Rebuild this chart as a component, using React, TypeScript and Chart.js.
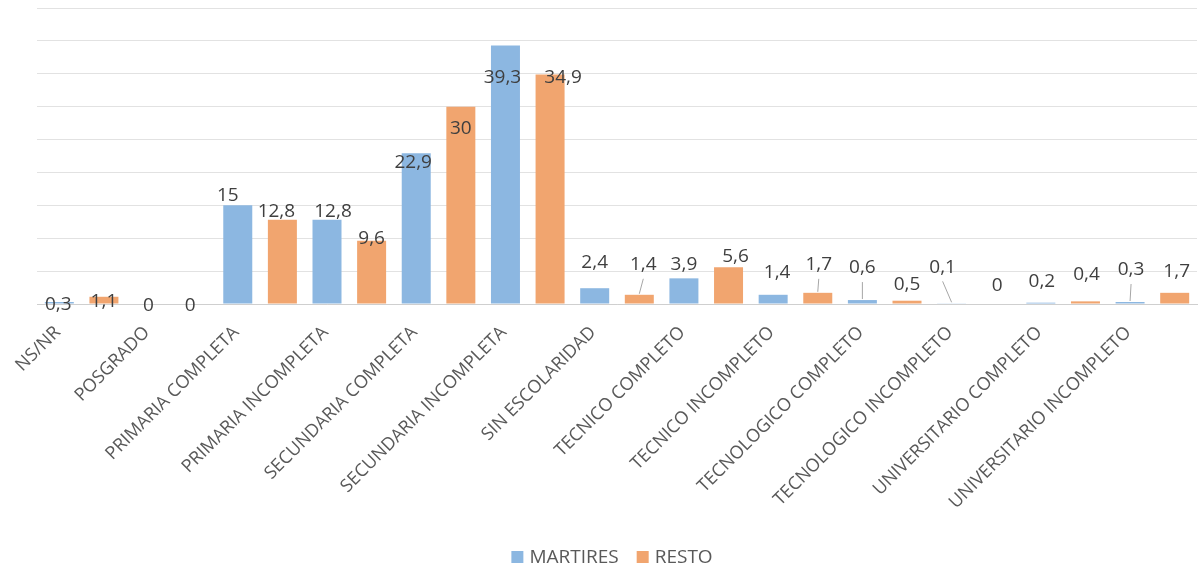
import React, { useEffect, useRef } from "react";
import { Chart, registerables } from "chart.js";

Chart.register(...registerables);

const categories = [
  "NS/NR",
  "POSGRADO",
  "PRIMARIA COMPLETA",
  "PRIMARIA INCOMPLETA",
  "SECUNDARIA COMPLETA",
  "SECUNDARIA INCOMPLETA",
  "SIN ESCOLARIDAD",
  "TECNICO COMPLETO",
  "TECNICO INCOMPLETO",
  "TECNOLOGICO COMPLETO",
  "TECNOLOGICO INCOMPLETO",
  "UNIVERSITARIO COMPLETO",
  "UNIVERSITARIO INCOMPLETO",
];
const martires = [0.3, 0, 15, 12.8, 22.9, 39.3, 2.4, 3.9, 1.4, 0.6, 0.1, 0.2, 0.3];
const resto = [1.1, 0, 12.8, 9.6, 30, 34.9, 1.4, 5.6, 1.7, 0.5, 0, 0.4, 1.7];
const seriesNames = ["MARTIRES", "RESTO"];

const Y_MAX = 45;
const Y_STEP = 5;

const BLUE = "#8CB7E1";
const ORANGE = "#F1A56F";
const FONT = '"Open Sans", "Noto Sans", sans-serif';

// Manual label nudges (dx, dy px relative to bar top, leader line flag),
// mimicking the hand-placed data labels of the original spreadsheet chart.
const labelNudges: [number, number, boolean][][] = [
  [
    [-1, 3, false], [0, 2, false], [-10, -10, false], [6, -8, false], [-3, 9, false],
    [-3, 32, false], [0, -26, false], [0, -14, false], [4, -22, false], [0, -32, true],
    [-9, -36, true], [1, -21, false], [1, -32, true],
  ],
  [
    [0, 5, false], [-3, 2, false], [-6, -8, false], [0, -2, false], [0, 22, false],
    [13, 3, false], [4, -30, true], [7, -11, false], [1, -28, true], [0, -16, false],
    [1, -18, false], [1, -27, false], [2, -21, false],
  ],
];

const valueLabelsPlugin = {
  id: "valueLabels",
  afterDatasetsDraw(chart: any) {
    const ctx = chart.ctx;
    ctx.save();
    ctx.font = `19px ${FONT}`;
    ctx.textAlign = "center";
    ctx.textBaseline = "middle";
    chart.data.datasets.forEach((ds: any, di: number) => {
      const meta = chart.getDatasetMeta(di);
      meta.data.forEach((bar: any, i: number) => {
        const v = ds.data[i];
        const [dx, dy, leader] = labelNudges[di][i];
        const x = bar.x + dx;
        const y = bar.y + dy;
        if (leader) {
          ctx.strokeStyle = "#a6a6a6";
          ctx.lineWidth = 1;
          ctx.beginPath();
          ctx.moveTo(x, y + 14);
          ctx.lineTo(bar.x, bar.y - 1);
          ctx.stroke();
        }
        ctx.fillStyle = "#3f3f3f";
        ctx.fillText(String(v).replace(".", ","), x, y);
      });
    });
    ctx.restore();
  },
};

const legendPlugin = {
  id: "customLegend",
  afterDraw(chart: any) {
    const ctx = chart.ctx;
    ctx.save();
    ctx.font = `19px ${FONT}`;
    ctx.textBaseline = "middle";
    ctx.textAlign = "left";
    const box = 12;
    const gapBoxText = 6;
    const gapItems = 18;
    const items = chart.data.datasets.map((d: any) => ({
      label: d.label,
      color: d.backgroundColor,
      w: ctx.measureText(d.label).width,
    }));
    const total = items.reduce(
      (s: number, it: any, idx: number) => s + box + gapBoxText + it.w + (idx > 0 ? gapItems : 0),
      0
    );
    let x = 612 - total / 2;
    const y = 557;
    items.forEach((it: any) => {
      ctx.fillStyle = it.color;
      ctx.fillRect(x, y - box / 2, box, box);
      x += box + gapBoxText;
      ctx.fillStyle = "#595959";
      ctx.fillText(it.label, x, y + 1);
      x += it.w + gapItems;
    });
    ctx.restore();
  },
};

export default function App() {
  const ref = useRef<HTMLCanvasElement | null>(null);
  useEffect(() => {
    if (!ref.current) return;
    Chart.defaults.font.family = FONT;
    const chart = new Chart(ref.current, {
      type: "bar",
      data: {
        labels: categories,
        datasets: [
          { label: seriesNames[0], data: martires, backgroundColor: BLUE, categoryPercentage: 1, barPercentage: 0.65 },
          { label: seriesNames[1], data: resto, backgroundColor: ORANGE, categoryPercentage: 1, barPercentage: 0.65 },
        ],
      },
      options: {
        responsive: false,
        animation: false,
        layout: { padding: { top: 8, left: 37, right: 7, bottom: 0 } },
        plugins: { legend: { display: false }, tooltip: { enabled: false } },
        scales: {
          x: {
            grid: { display: false },
            border: { display: true, color: "#cfcfcf", width: 1 },
            ticks: {
              autoSkip: false,
              minRotation: 45,
              maxRotation: 45,
              color: "#595959",
              font: { size: 18, family: FONT },
              padding: 10,
              labelOffset: -24,
            },
            afterFit(scale: any) {
              scale.height = 573 - 304;
            },
          },
          y: {
            min: 0,
            max: Y_MAX,
            ticks: { display: false, stepSize: Y_STEP },
            grid: { color: "#e2e2e2", drawTicks: false, lineWidth: 1 },
            border: { display: false },
            afterFit(scale: any) {
              scale.width = 0;
            },
          },
        },
      },
      plugins: [valueLabelsPlugin, legendPlugin],
    });
    return () => chart.destroy();
  }, []);
  return (
    <div style={{ position: "fixed", left: 0, top: 0, width: 1204, height: 573, background: "#fff" }}>
      <canvas ref={ref} width={1204} height={573} style={{ width: 1204, height: 573, display: "block" }} />
    </div>
  );
}
